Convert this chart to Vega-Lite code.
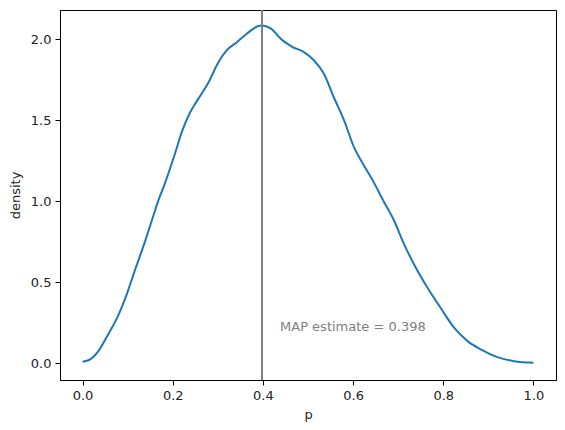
{
  "$schema": "https://vega.github.io/schema/vega-lite/v6.json",
  "width": 496,
  "height": 370,
  "autosize": {"type": "none"},
  "padding": {"left": 60, "top": 10, "right": 9, "bottom": 50},
  "background": "white",
  "config": {
    "font": "DejaVu Sans",
    "view": {"stroke": "black", "strokeWidth": 1},
    "axis": {
      "grid": false,
      "domainColor": "black",
      "tickColor": "black",
      "tickSize": 5,
      "labelFontSize": 13,
      "labelColor": "#222222",
      "titleFontSize": 13,
      "titleFontWeight": "normal",
      "titleColor": "#222222",
      "labelPadding": 4
    }
  },
  "layer": [
    {
      "data": {
        "values": [
          {"p": 0.000, "density": 0.008},
          {"p": 0.017, "density": 0.023},
          {"p": 0.035, "density": 0.074},
          {"p": 0.057, "density": 0.178},
          {"p": 0.080, "density": 0.300},
          {"p": 0.098, "density": 0.425},
          {"p": 0.117, "density": 0.580},
          {"p": 0.139, "density": 0.755},
          {"p": 0.157, "density": 0.910},
          {"p": 0.168, "density": 1.003},
          {"p": 0.180, "density": 1.090},
          {"p": 0.206, "density": 1.302},
          {"p": 0.220, "density": 1.426},
          {"p": 0.239, "density": 1.550},
          {"p": 0.257, "density": 1.633},
          {"p": 0.278, "density": 1.726},
          {"p": 0.302, "density": 1.860},
          {"p": 0.320, "density": 1.932},
          {"p": 0.343, "density": 1.983},
          {"p": 0.365, "density": 2.035},
          {"p": 0.387, "density": 2.078},
          {"p": 0.398, "density": 2.085},
          {"p": 0.417, "density": 2.066},
          {"p": 0.443, "density": 1.994},
          {"p": 0.465, "density": 1.953},
          {"p": 0.491, "density": 1.920},
          {"p": 0.513, "density": 1.870},
          {"p": 0.535, "density": 1.788},
          {"p": 0.557, "density": 1.643},
          {"p": 0.580, "density": 1.498},
          {"p": 0.602, "density": 1.333},
          {"p": 0.624, "density": 1.220},
          {"p": 0.646, "density": 1.116},
          {"p": 0.665, "density": 1.013},
          {"p": 0.691, "density": 0.879},
          {"p": 0.713, "density": 0.735},
          {"p": 0.735, "density": 0.611},
          {"p": 0.765, "density": 0.466},
          {"p": 0.794, "density": 0.342},
          {"p": 0.824, "density": 0.219},
          {"p": 0.854, "density": 0.136},
          {"p": 0.883, "density": 0.085},
          {"p": 0.920, "density": 0.037},
          {"p": 0.957, "density": 0.012},
          {"p": 1.000, "density": 0.002}
        ]
      },
      "mark": {"type": "line", "color": "#1f77b4", "strokeWidth": 2, "interpolate": "monotone"},
      "encoding": {
        "x": {
          "field": "p",
          "type": "quantitative",
          "scale": {"domain": [-0.05, 1.05], "nice": false, "zero": false},
          "axis": {"values": [0, 0.2, 0.4, 0.6, 0.8, 1.0], "format": ".1f", "title": "p", "titlePadding": 6}
        },
        "y": {
          "field": "density",
          "type": "quantitative",
          "scale": {"domain": [-0.104, 2.18], "nice": false, "zero": false},
          "axis": {"values": [0, 0.5, 1.0, 1.5, 2.0], "format": ".1f", "title": "density", "titlePadding": 8}
        }
      }
    },
    {
      "data": {"values": [{"p": 0.398}]},
      "mark": {"type": "rule", "color": "#808080", "strokeWidth": 2},
      "encoding": {
        "x": {"field": "p", "type": "quantitative"}
      }
    },
    {
      "data": {"values": [{"p": 0.438, "density": 0.2, "label": "MAP estimate = 0.398"}]},
      "mark": {"type": "text", "color": "#808080", "fontSize": 13, "align": "left", "baseline": "alphabetic"},
      "encoding": {
        "x": {"field": "p", "type": "quantitative"},
        "y": {"field": "density", "type": "quantitative"},
        "text": {"field": "label"}
      }
    }
  ]
}
